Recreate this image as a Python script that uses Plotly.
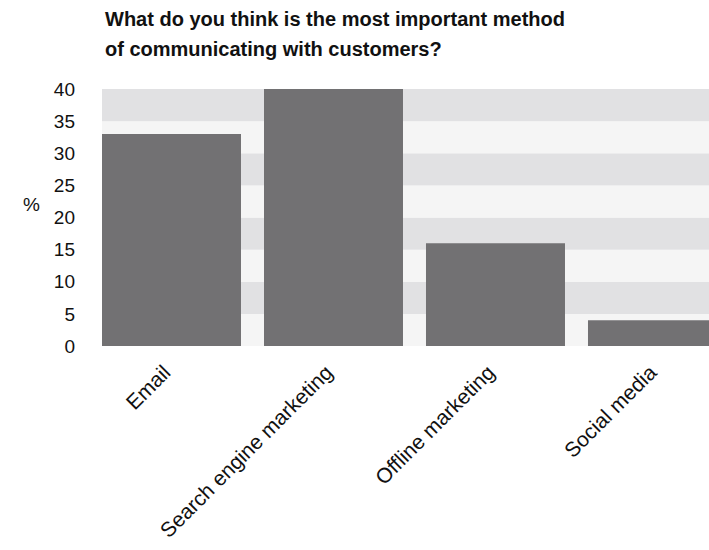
import plotly.graph_objects as go

# Survey responses (% of respondents)
categories = ["Email", "Search engine marketing", "Offline marketing", "Social media"]
values = [33, 40, 16, 4]
y_ticks = [0, 5, 10, 15, 20, 25, 30, 35, 40]
title_lines = ["What do you think is the most important method",
               "of communicating with customers?"]

BAR = "#727173"
BAND_DARK = "#e1e1e3"
BAND_LIGHT = "#f5f5f5"
FONT = "Liberation Sans, Arial, Helvetica, sans-serif"
TEXT = "#111111"

fig = go.Figure(go.Bar(
    x=list(range(len(categories))),
    y=values,
    marker=dict(color=BAR, line=dict(width=0)),
    width=0.858,
))

# alternating horizontal bands behind the bars
shapes = []
for i in range(len(y_ticks) - 1):
    shapes.append(dict(
        type="rect", xref="paper", yref="y", layer="below",
        x0=0, x1=1, y0=y_ticks[i], y1=y_ticks[i + 1],
        fillcolor=BAND_LIGHT if i % 2 == 0 else BAND_DARK,
        line=dict(width=0),
    ))

annotations = [
    dict(text="%", xref="paper", yref="paper", x=0, y=0.5,
         xanchor="right", yanchor="middle", xshift=-60, yshift=13,
         showarrow=False, font=dict(size=19, color=TEXT, family=FONT)),
]
for k, line in enumerate(title_lines):
    annotations.append(dict(
        text="<b>" + line + "</b>", xref="paper", yref="paper",
        x=0, y=1, xanchor="left", yanchor="middle",
        xshift=1, yshift=70 - 30 * k,
        showarrow=False, font=dict(size=20, color=TEXT, family=FONT)))

fig.update_layout(
    width=709, height=550,
    margin=dict(l=102, r=0, t=89, b=204),
    paper_bgcolor="white", plot_bgcolor="white",
    showlegend=False,
    shapes=shapes,
    annotations=annotations,
    font=dict(family=FONT, color=TEXT),
    xaxis=dict(
        tickmode="array", tickvals=list(range(len(categories))), ticktext=categories,
        range=[-0.429, 3.318], tickangle=-45, showgrid=False, zeroline=False,
        showline=False, ticks="", ticklabelstandoff=9, ticklabelshift=-7,
        tickfont=dict(size=21, family=FONT, color=TEXT),
    ),
    yaxis=dict(
        range=[0, 40], tickvals=y_ticks, showgrid=False, zeroline=False,
        showline=False, ticks="", ticklabelstandoff=26,
        tickfont=dict(size=19, family=FONT, color=TEXT),
    ),
)

fig.write_html("out.html")
